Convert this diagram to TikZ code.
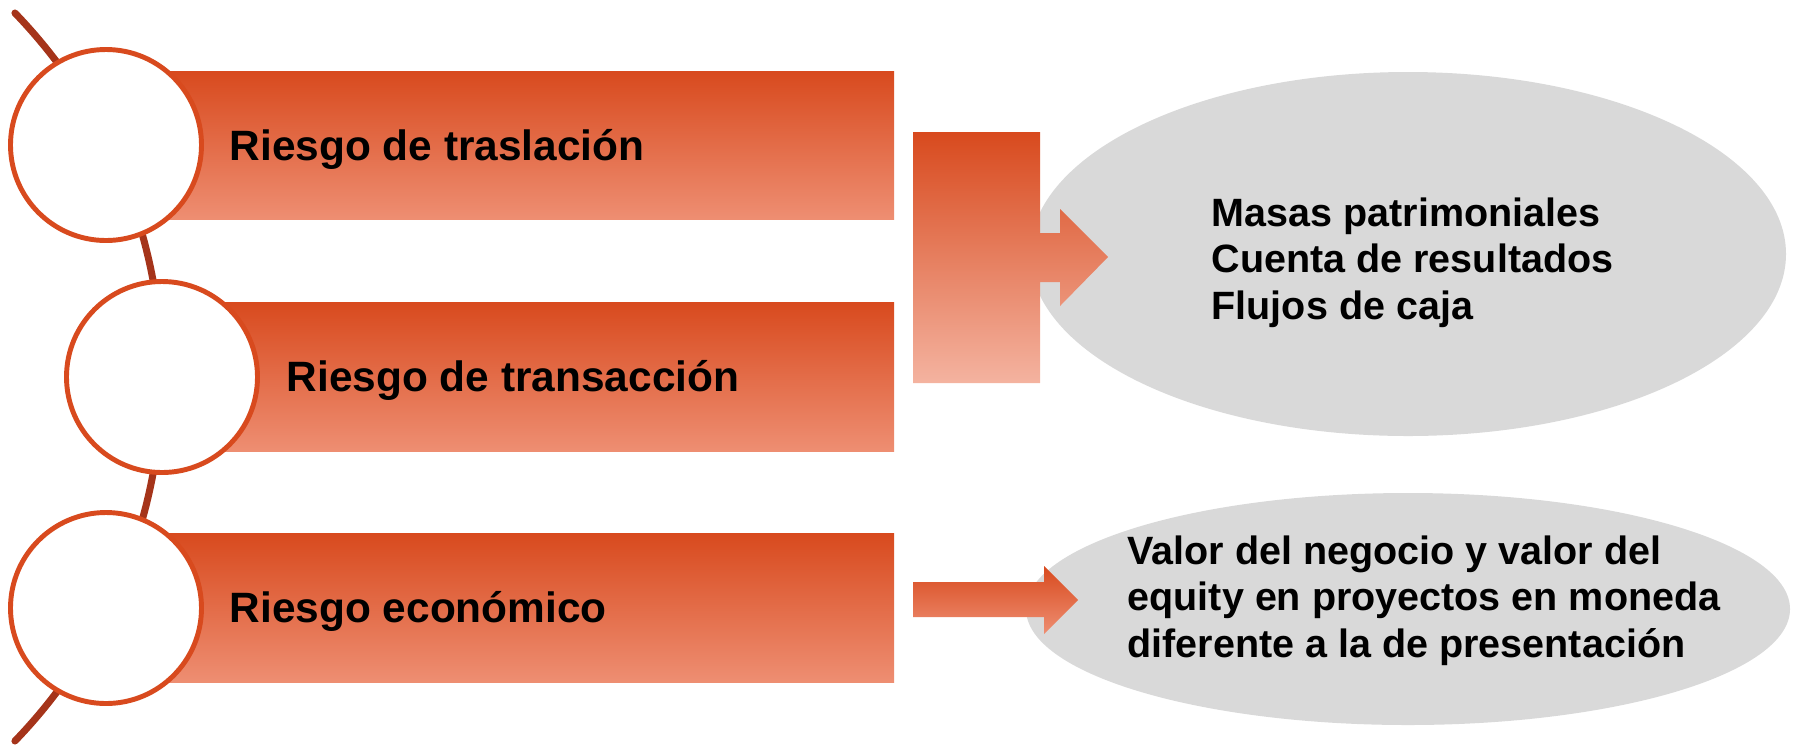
\documentclass[tikz,border=0pt]{standalone}
\usepackage{fontspec}
\setmainfont{Liberation Sans}
\usepackage{tikz}
\usetikzlibrary{calc}
\usepackage{xcolor}
\definecolor{riskred}{HTML}{D84A1E}
\definecolor{barsalmon}{HTML}{EE8E72}
\definecolor{blocksalmon}{HTML}{F4B3A0}
\definecolor{spinebrown}{HTML}{A5341A}
\definecolor{ovalgray}{HTML}{D9D9D9}

\begin{document}
\begin{tikzpicture}[
  bar/.style={top color=riskred,bottom color=barsalmon},
  ring/.style={circle,draw=riskred,line width=1.4pt,fill=white,minimum size=1.91cm,inner sep=0pt},
  risk/.style={anchor=base west,inner sep=0pt,font=\bfseries\fontsize{12.07}{14}\selectfont},
  effect/.style={anchor=north west,inner sep=0pt,align=left,font=\bfseries\fontsize{11.24}{13.26}\selectfont}]
\useasboundingbox (0,0) rectangle (17.96,-7.44);
\coordinate (hub) at (-3.62,-3.77);
\draw[spinebrown,line width=2pt,line cap=round] ($(hub)+(44:5.24)$) arc[start angle=44,end angle=-44,radius=5.24];
\fill[ovalgray] (14.08,-2.54) ellipse[x radius=3.78,y radius=1.82];
\fill[ovalgray] (14.08,-6.09) ellipse[x radius=3.82,y radius=1.16];
\shade[bar] (1.06,-0.71) rectangle (8.94,-2.19);
\shade[bar] (1.62,-3.02) rectangle (8.94,-4.51);
\shade[bar] (1.06,-5.33) rectangle (8.94,-6.82);
\node[ring] (c1) at (1.06,-1.45) {};
\node[ring] (c2) at (1.62,-3.77) {};
\node[ring] (c3) at (1.06,-6.08) {};
\node[risk] (tras) at (2.29,-1.60) {Riesgo de traslación};
\node[risk] (trans) at (2.86,-3.91) {Riesgo de transacción};
\node[risk] (econ) at (2.29,-6.22) {Riesgo económico};
\shade[top color=riskred,bottom color=blocksalmon] (9.13,-1.32) -- (10.40,-1.32) -- (10.40,-2.33) -- (10.60,-2.33) -- (10.60,-2.09) -- (11.08,-2.57) -- (10.60,-3.06) -- (10.60,-2.82) -- (10.40,-2.82) -- (10.40,-3.83) -- (9.13,-3.83) -- cycle;
\shade[bar] (9.13,-5.82) -- (10.44,-5.82) -- (10.44,-5.66) -- (10.78,-6.00) -- (10.44,-6.34) -- (10.44,-6.17) -- (9.13,-6.17) -- cycle;
\node[effect] (masas) at (12.11,-1.97) {Masas patrimoniales\\Cuenta de resultados\\Flujos de caja};
\node[effect] (valor) at (11.27,-5.35) {Valor del negocio y valor del\\equity en proyectos en moneda\\diferente a la de presentación};
\end{tikzpicture}
\end{document}
